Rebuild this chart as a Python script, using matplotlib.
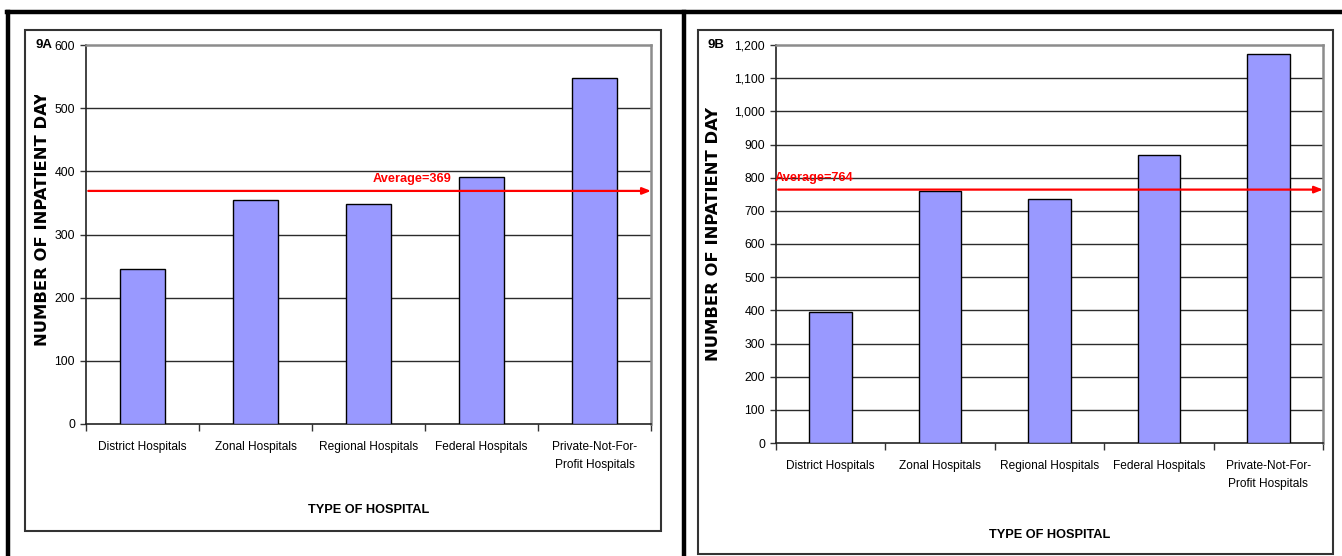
import os
import numpy as np
import matplotlib
matplotlib.use("Agg")
import matplotlib.pyplot as plt
from matplotlib.patches import Rectangle
from matplotlib.lines import Line2D
from matplotlib.transforms import Bbox
from matplotlib import font_manager
from matplotlib.font_manager import FontProperties

# data
categories = ["District Hospitals", "Zonal Hospitals", "Regional Hospitals",
              "Federal Hospitals", "Private-Not-For-\nProfit Hospitals"]
days_9a = [246, 355, 348, 391, 548]
days_9b = [396, 760, 736, 868, 1173]
avg_9a = 369
avg_9b = 764
yticks_9a = [0, 100, 200, 300, 400, 500, 600]
yticks_9b = [0, 100, 200, 300, 400, 500, 600, 700, 800, 900, 1000, 1100, 1200]


def find_font(key):
    for f in font_manager.fontManager.ttflist:
        if os.path.basename(f.fname).lower().startswith(key):
            return f.fname
    return None


# narrow font like the original (Arial Narrow), else plain Liberation Sans a bit smaller
nr = find_font("liberationsansnarrow-regular")
nb = find_font("liberationsansnarrow-bold.")
if nr and nb:
    def fp(size, bold=False):
        return FontProperties(fname=nb if bold else nr, size=size * 1.2)
else:
    def fp(size, bold=False):
        return FontProperties(family="Liberation Sans",
                              weight="bold" if bold else "normal", size=size)

W, H = 1342, 556
fig = plt.figure(figsize=(W / 100, H / 100), dpi=100)


def fx(px):
    return px / W


def fy(py):
    return 1 - py / H


# outer black frame and divider
for xs, ys in [((7, W), (12, 12)), ((8, 8), (12, H)), ((684, 684), (12, H))]:
    fig.add_artist(Line2D([fx(x) for x in xs], [fy(y) for y in ys],
                          transform=fig.transFigure, color="black", lw=3.2))

# inner chart frames
for x0, y0, x1, y1 in [(25, 30, 661, 531), (698, 30, 1333, 554)]:
    fig.add_artist(Rectangle((fx(x0), fy(y1)), fx(x1 - x0), (y1 - y0) / H,
                             transform=fig.transFigure, fill=False,
                             edgecolor="#333333", lw=1.5))


def panel(box, vals, avg, yt, tag, tagpos, ylab_x, ylab_bottom, ylab_clip,
          xlab_y, avg_x, fmt):
    x0, y0, x1, y1 = box
    ax = fig.add_axes([fx(x0), fy(y1), fx(x1 - x0), (y1 - y0) / H])
    x = np.arange(len(vals))
    ax.bar(x, vals, width=0.39, color="#9999FF", edgecolor="black", lw=1, zorder=3)
    ax.set_xlim(-0.5, len(vals) - 0.5)
    ax.set_ylim(yt[0], yt[-1])
    ax.set_yticks(yt)
    ax.set_yticklabels([fmt.format(v) for v in yt], fontproperties=fp(8.8))
    for v in yt[1:-1]:
        ax.axhline(v, color="#2b2b2b", lw=1, zorder=1)
    ax.set_xticks(x)
    ax.set_xticklabels(categories, fontproperties=fp(8.6),
                       multialignment="center", linespacing=1.75)
    ax.tick_params(axis="x", which="major", length=0, pad=12)
    ax.set_xticks(np.arange(len(vals) + 1) - 0.5, minor=True)
    ax.tick_params(axis="x", which="minor", length=5, width=1, color="#333333")
    ax.tick_params(axis="y", length=4, width=1, pad=4, color="#333333")
    for s in ["top", "right"]:
        ax.spines[s].set_color("#8c8c8c")
        ax.spines[s].set_linewidth(1.8)
    for s in ["left", "bottom"]:
        ax.spines[s].set_color("#222222")
        ax.spines[s].set_linewidth(1.2)

    # average arrow
    ax.annotate("", xy=(len(vals) - 0.5, avg), xytext=(-0.48, avg),
                arrowprops=dict(arrowstyle="-|>,head_length=0.5,head_width=0.2",
                                color="red", lw=1.6, shrinkA=0, shrinkB=0),
                zorder=5)
    ax.annotate("Average=%d" % avg, xy=(avg_x, avg), xytext=(0, 4),
                textcoords="offset points", ha="center", va="bottom",
                color="red", fontproperties=fp(9.2, True), zorder=6)

    fig.text(fx(tagpos[0]), fy(tagpos[1]), tag, fontproperties=fp(9.5, True),
             va="center", ha="left")
    # y title is cut off at the top in the original, keep that
    t = fig.text(fx(ylab_x), fy(ylab_bottom), "NUMBER OF INPATIENT DAYS",
                 rotation=90, fontweight="bold", fontfamily="DejaVu Sans",
                 fontsize=11.8, ha="center", va="bottom")
    t.set_clip_box(Bbox.from_extents(0, 0, W, H - ylab_clip))
    t.set_clip_on(True)
    fig.text((fx(x0) + fx(x1)) / 2, fy(xlab_y), "TYPE OF HOSPITAL",
             fontproperties=fp(9.2, True), ha="center", va="center")
    return ax


panel((86, 45, 651, 424), days_9a, avg_9a, yticks_9a, "9A", (36, 45),
      43, 346, 95, 510, 2.385, "{:d}")
panel((776, 45, 1323, 443), days_9b, avg_9b, yticks_9b, "9B", (707, 45),
      714, 361, 108, 535, -0.15, "{:,}")

fig.savefig("out.png", dpi=100)
